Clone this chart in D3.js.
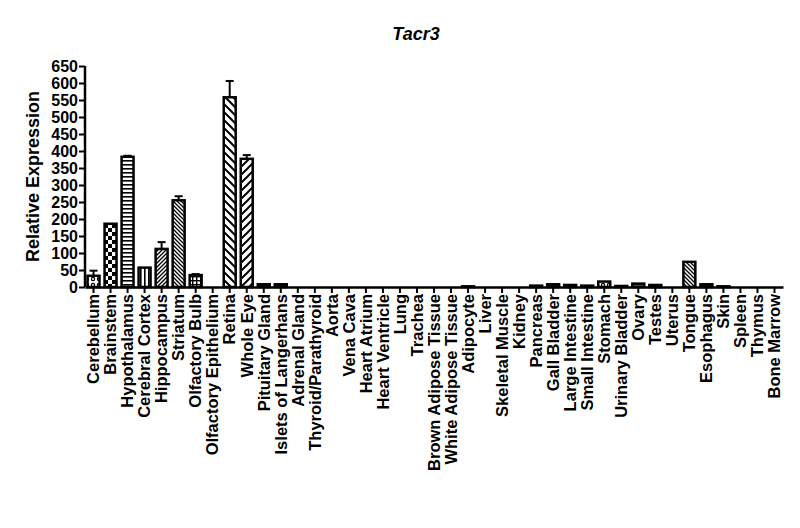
<!DOCTYPE html>
<html>
<head>
<meta charset="utf-8">
<script src="https://cdn.jsdelivr.net/npm/d3@7"></script>
<style>
  body { margin: 0; background: #fff; }
  text { font-family: "Liberation Sans", Arial, sans-serif; font-weight: bold; }
</style>
</head>
<body>
<div id="chart"></div>
<script>
// tissue panel for Tacr3, mean + SEM
var tissues = ["Cerebellum","Brainstem","Hypothalamus","Cerebral Cortex","Hippocampus","Striatum",
    "Olfactory Bulb","Olfactory Epithelium","Retina","Whole Eye","Pituitary Gland","Islets of Langerhans",
    "Adrenal Gland","Thyroid/Parathyroid","Aorta","Vena Cava","Heart Atrium","Heart Ventricle","Lung",
    "Trachea","Brown Adipose Tissue","White Adipose Tissue","Adipocyte","Liver","Skeletal Muscle",
    "Kidney","Pancreas","Gall Bladder","Large Intestine","Small Intestine","Stomach","Urinary Bladder",
    "Ovary","Testes","Uterus","Tongue","Esophagus","Skin","Spleen","Thymus","Bone Marrow"];
var means = [33,186,383,57,112,255,35,0,558,377,8,8,0,0,0,0,0,0,0,0,0,0,2,0,0,0,4,8,6,4,16,3,10,6,0,74,8,2,0,0,0];
var sems  = [15,2,3,1,20,12,3,0,48,11,2,2,0,0,0,0,0,0,0,0,0,0,1,0,0,0,1,2,1,1,2,1,1,1,0,1,2,1,0,0,0];
var fills = ["dots","check","hlines","vlines","diagR","diagL","grid","solid","wideL","wideR","solid","solid",
    "solid","solid","solid","solid","solid","solid","solid","solid","solid","solid","solid","solid","solid",
    "solid","solid","solid","solid","solid","dots","solid","hlines","solid","solid","diagL","solid","solid",
    "solid","solid","solid"];
var yTicks = d3.range(0, 651, 50);

var W = 800, H = 528;
var plotLeft = 85, plotRight = 783, plotTop = 66, plotBase = 287;

var svg = d3.select("#chart").append("svg")
    .attr("width", W)
    .attr("height", H);

//patterns
var defs = svg.append("defs");
function pat(id, size, draw){
    var p = defs.append("pattern")
        .attr("id", id)
        .attr("patternUnits", "userSpaceOnUse")
        .attr("width", size)
        .attr("height", size);
    p.append("rect").attr("width", size).attr("height", size).attr("fill", "#fff");
    draw(p);
}
pat("dots", 6, function(p){
    p.append("circle").attr("cx", 3).attr("cy", 3).attr("r", 1.6).attr("fill", "none").attr("stroke", "#000").attr("stroke-width", 1.2);
});
pat("check", 8, function(p){
    p.append("rect").attr("width", 4).attr("height", 4).attr("fill", "#000");
    p.append("rect").attr("x", 4).attr("y", 4).attr("width", 4).attr("height", 4).attr("fill", "#000");
});
pat("hlines", 4, function(p){
    p.append("rect").attr("y", 0).attr("width", 4).attr("height", 1.6).attr("fill", "#000");
});
pat("vlines", 4, function(p){
    p.append("rect").attr("x", 0).attr("width", 1.6).attr("height", 4).attr("fill", "#000");
});
pat("grid", 4, function(p){
    p.append("rect").attr("width", 4).attr("height", 1.4).attr("fill", "#000");
    p.append("rect").attr("width", 1.4).attr("height", 4).attr("fill", "#000");
});
function diag(id, size, width, dir){
    pat(id, size, function(p){
        var d = dir > 0
            ? "M0," + size + " L" + size + ",0 M" + (-size/2) + "," + (size/2) + " L" + (size/2) + "," + (-size/2) + " M" + (size/2) + "," + (size*1.5) + " L" + (size*1.5) + "," + (size/2)
            : "M0,0 L" + size + "," + size + " M" + (-size/2) + "," + (size/2) + " L" + (size/2) + "," + (size*1.5) + " M" + (size/2) + "," + (-size/2) + " L" + (size*1.5) + "," + (size/2);
        p.append("path").attr("d", d).attr("stroke", "#000").attr("stroke-width", width);
    });
}
diag("diagR", 4, 1.3, 1);
diag("diagL", 4, 1.3, -1);
diag("wideL", 8, 2, -1);
diag("wideR", 8, 2, 1);
pat("solid", 4, function(p){
    p.append("rect").attr("width", 4).attr("height", 4).attr("fill", "#222");
});

//scales
var x = d3.scaleBand()
    .domain(tissues)
    .range([plotLeft, plotRight])
    .paddingInner(0.18)
    .paddingOuter(0.09);
var y = d3.scaleLinear()
    .domain([0, 650])
    .range([plotBase, plotTop]);

//axes
var yAxis = svg.append("g")
    .attr("transform", "translate(" + plotLeft + ",0)")
    .call(d3.axisLeft(y).tickValues(yTicks).tickSize(6).tickPadding(1));
yAxis.select(".domain").attr("stroke-width", 2.5).attr("d", "M0," + y(650) + "V" + plotBase);
yAxis.selectAll(".tick line").attr("stroke-width", 2);
yAxis.selectAll(".tick text")
    .attr("font-size", "16px")
    .attr("font-family", "Liberation Sans, Arial, sans-serif")
    .attr("font-weight", "bold")
    .attr("fill", "#000");

var xAxis = svg.append("g")
    .attr("transform", "translate(0," + plotBase + ")")
    .call(d3.axisBottom(x).tickSize(6).tickSizeOuter(0));
xAxis.select(".domain").attr("stroke-width", 2.5);
xAxis.selectAll(".tick line").attr("stroke-width", 2);
xAxis.selectAll(".tick text")
    .attr("font-size", "16.5px")
    .attr("font-family", "Liberation Sans, Arial, sans-serif")
    .attr("font-weight", "bold")
    .attr("fill", "#000")
    .attr("text-anchor", "end")
    .attr("dy", "0.35em")
    .attr("transform", "rotate(-90)")
    .attr("x", -7)
    .attr("y", 0);

//bars
var data = tissues.map(function(t, i){ return {name: t, v: means[i], e: sems[i], f: fills[i]}; });
var bars = svg.append("g");
bars.selectAll("rect")
    .data(data.filter(function(d){ return d.v > 0; }))
    .enter().append("rect")
    .attr("x", function(d){ return x(d.name) + 1; })
    .attr("y", function(d){ return y(d.v); })
    .attr("width", x.bandwidth() - 2)
    .attr("height", function(d){ return plotBase - y(d.v); })
    .attr("fill", function(d){ return "url(#" + d.f + ")"; })
    .attr("stroke", "#000")
    .attr("stroke-width", 2.5);

//error bars, upper only
var err = svg.append("g").attr("stroke", "#000").attr("stroke-width", 2);
data.filter(function(d){ return d.e > 2; }).forEach(function(d){
    var cx = x(d.name) + x.bandwidth()/2;
    err.append("line")
        .attr("x1", cx).attr("x2", cx)
        .attr("y1", y(d.v)).attr("y2", y(d.v + d.e));
    err.append("line")
        .attr("x1", cx - 4).attr("x2", cx + 4)
        .attr("y1", y(d.v + d.e)).attr("y2", y(d.v + d.e));
});

//titles
svg.append("text")
    .attr("x", 416)
    .attr("y", 40)
    .attr("text-anchor", "middle")
    .attr("font-size", "18px")
    .attr("font-style", "italic")
    .text("Tacr3");

svg.append("text")
    .attr("transform", "translate(39," + ((plotTop + plotBase)/2) + ") rotate(-90)")
    .attr("text-anchor", "middle")
    .attr("font-size", "18px")
    .text("Relative Expression");
</script>
</body>
</html>
